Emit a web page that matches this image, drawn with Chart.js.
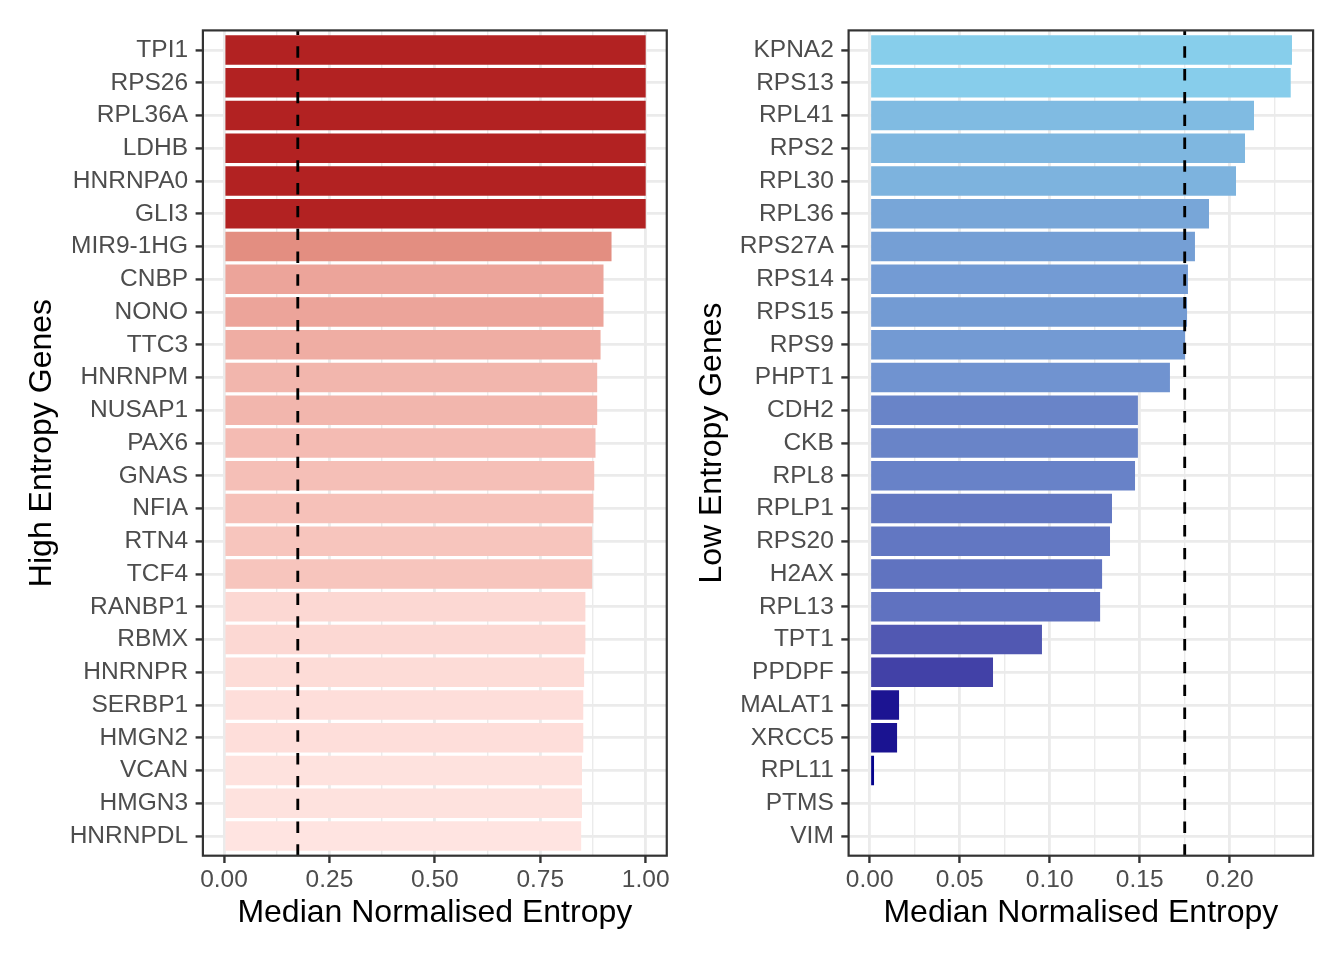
<!DOCTYPE html>
<html><head><meta charset="utf-8">
<script src="https://cdn.jsdelivr.net/npm/chart.js@4.4.1/dist/chart.umd.min.js"></script>
<style>
html,body{margin:0;padding:0;background:#fff;}
#wrap{position:relative;width:1344px;height:960px;overflow:hidden;background:#fff;}
.pane{position:absolute;top:0;width:672px;height:960px;}
canvas{display:block;}
</style></head><body>
<div id="wrap">
<div class="pane" style="left:0"><canvas id="c1" width="672" height="960"></canvas></div>
<div class="pane" style="left:672px"><canvas id="c2" width="672" height="960"></canvas></div>
</div>
<script>
// ---- data ----
const highGenes = ['TPI1','RPS26','RPL36A','LDHB','HNRNPA0','GLI3','MIR9-1HG','CNBP','NONO','TTC3','HNRNPM','NUSAP1','PAX6','GNAS','NFIA','RTN4','TCF4','RANBP1','RBMX','HNRNPR','SERBP1','HMGN2','VCAN','HMGN3','HNRNPDL'];
const highValues = [1,1,1,1,1,1,0.919,0.900,0.900,0.893,0.885,0.885,0.881,0.878,0.876,0.873,0.873,0.857,0.857,0.854,0.852,0.852,0.849,0.849,0.847];
const lowGenes = ['KPNA2','RPS13','RPL41','RPS2','RPL30','RPL36','RPS27A','RPS14','RPS15','RPS9','PHPT1','CDH2','CKB','RPL8','RPLP1','RPS20','H2AX','RPL13','TPT1','PPDPF','MALAT1','XRCC5','RPL11','PTMS','VIM'];
const lowValues = [0.2346,0.2339,0.2135,0.2085,0.2035,0.1885,0.1807,0.1768,0.1763,0.1752,0.1668,0.1490,0.1490,0.1474,0.1346,0.1335,0.1291,0.1280,0.0957,0.0685,0.0163,0.0152,0.0024,0,0];
const highTicks = [0,0.25,0.5,0.75,1.0];
const highTickLabels = ['0.00','0.25','0.50','0.75','1.00'];
const lowTicks = [0,0.05,0.10,0.15,0.20];
const lowTickLabels = ['0.00','0.05','0.10','0.15','0.20'];
const threshold = 0.175;
const xTitle = 'Median Normalised Entropy';
const highTitle = 'High Entropy Genes';
const lowTitle = 'Low Entropy Genes';

// ---- colour gradient in Lab space ----
function hexToRgb(h){h=h.replace('#','');return [0,2,4].map(i=>parseInt(h.substr(i,2),16));}
function toLab(hex){
  const [r,g,b]=hexToRgb(hex).map(c=>{c/=255;return c<=0.04045?c/12.92:Math.pow((c+0.055)/1.055,2.4);});
  let X=(0.4124564*r+0.3575761*g+0.1804375*b)/0.95047;
  let Y=(0.2126729*r+0.7151522*g+0.0721750*b);
  let Z=(0.0193339*r+0.1191920*g+0.9503041*b)/1.08883;
  const f=t=>t>0.008856?Math.cbrt(t):7.787*t+16/116;
  const fx=f(X),fy=f(Y),fz=f(Z);
  return [116*fy-16,500*(fx-fy),200*(fy-fz)];
}
function fromLab([L,a,b]){
  const fy=(L+16)/116, fx=fy+a/500, fz=fy-b/200;
  const fi=t=>{const t3=t*t*t;return t3>0.008856?t3:(t-16/116)/7.787;};
  const X=fi(fx)*0.95047, Y=fi(fy), Z=fi(fz)*1.08883;
  let r= 3.2404542*X-1.5371385*Y-0.4985314*Z;
  let g=-0.9692660*X+1.8760108*Y+0.0415560*Z;
  let bb=0.0556434*X-0.2040259*Y+1.0572252*Z;
  const gm=c=>{c=c<=0.0031308?12.92*c:1.055*Math.pow(c,1/2.4)-0.055;return Math.round(Math.max(0,Math.min(1,c))*255);};
  return 'rgb('+gm(r)+','+gm(g)+','+gm(bb)+')';
}
function gradient(lowHex, highHex, vals){
  const lo=Math.min(...vals), hi=Math.max(...vals);
  const A=toLab(lowHex), B=toLab(highHex);
  return vals.map(v=>{const t=(v-lo)/(hi-lo);return fromLab(A.map((x,i)=>x+(B[i]-x)*t));});
}

const FONT='Liberation Sans, Arial, sans-serif';
const TICK_SIZE=24.5, TITLE_SIZE=32;

function makeChart(id, genes, values, majors, majorLabels, yTitle, colors, lay){
  const hi=Math.max(0,...values), lo=Math.min(0,...values), span=hi-lo;
  const xmin=lo-0.05*span, xmax=hi+0.05*span;
  const step=majors[1]-majors[0];
  const tickVals=[];
  majors.forEach(m=>{ if(m>=xmin&&m<=xmax) tickVals.push(m); const mm=m+step/2; if(mm>xmin&&mm<xmax) tickVals.push(mm); });
  if(majors[0]-step/2>xmin) tickVals.push(majors[0]-step/2);
  tickVals.sort((a,b)=>a-b);
  const majorIdx=v=>majors.findIndex(m=>Math.abs(m-v)<1e-9);
  const isMajorCtx=c=>c&&c.tick&&majorIdx(c.tick.value)>=0;

  const overlay={id:'overlay'+id, afterDatasetsDraw(chart){
    const {ctx, chartArea:a, scales:{x}}=chart;
    const px=x.getPixelForValue(threshold);
    ctx.save();
    ctx.beginPath(); ctx.rect(a.left,a.top,a.right-a.left,a.bottom-a.top); ctx.clip();
    ctx.setLineDash([11.4,11.4]); ctx.lineWidth=2.85; ctx.strokeStyle='#000';
    ctx.beginPath(); ctx.moveTo(px,a.bottom); ctx.lineTo(px,a.top); ctx.stroke();
    ctx.restore();
    ctx.save();
    ctx.strokeStyle='#333333'; ctx.lineWidth=2.2;
    ctx.strokeRect(a.left,a.top,a.right-a.left,a.bottom-a.top);
    ctx.restore();
  }};

  return new Chart(document.getElementById(id),{
    type:'bar',
    data:{datasets:[{
      data:genes.map((g,i)=>({x:values[i],y:i})),
      backgroundColor:colors, borderWidth:0,
      categoryPercentage:1, barPercentage:0.9
    }]},
    options:{
      responsive:false, animation:false, indexAxis:'y', devicePixelRatio:1,
      layout:{padding:{top:lay.top,right:lay.right,bottom:0,left:0}},
      plugins:{legend:{display:false},tooltip:{enabled:false}},
      scales:{
        x:{type:'linear',position:'bottom',min:xmin,max:xmax,
          afterBuildTicks:s=>{s.ticks=tickVals.map(v=>({value:v}));},
          afterFit:s=>{s.height=lay.xAxisH;},
          ticks:{autoSkip:false,maxRotation:0,minRotation:0,padding:2.3,color:'#4D4D4D',
            font:{family:FONT,size:TICK_SIZE},
            callback:v=>{const k=majorIdx(v);return k>=0?majorLabels[k]:'';}},
          grid:{color:'#EBEBEB',lineWidth:c=>isMajorCtx(c)?2.85:1.42,drawTicks:true,tickLength:7.3,
            tickColor:c=>isMajorCtx(c)?'#333333':'rgba(0,0,0,0)',tickWidth:2.4},
          border:{display:false},
          title:{display:true,text:xTitle,color:'#000',font:{family:FONT,size:TITLE_SIZE},padding:{top:0,bottom:28.0}}
        },
        y:{type:'linear',position:'left',reverse:true,offset:false,min:-0.6,max:genes.length-1+0.6,
          afterBuildTicks:s=>{s.ticks=genes.map((g,i)=>({value:i}));},
          afterFit:s=>{s.width=lay.yAxisW;},
          ticks:{autoSkip:false,padding:7.5,color:'#4D4D4D',font:{family:FONT,size:TICK_SIZE},
            callback:v=>genes[v]},
          grid:{offset:false,color:'#EBEBEB',lineWidth:2.85,drawTicks:true,tickLength:7.3,tickColor:'#333333',tickWidth:2.4},
          border:{display:false},
          title:{display:true,text:yTitle,color:'#000',font:{family:FONT,size:TITLE_SIZE},padding:{top:lay.yTitlePad,bottom:0}}
        }
      }
    },
    plugins:[overlay]
  });
}

const highColors=gradient('#FFE4E1','#B22222',highValues);
const lowColors=gradient('#00008B','#87CEEB',lowValues);

makeChart('c1',highGenes,highValues,highTicks,highTickLabels,highTitle,highColors,
  {top:30.4,right:3.8,xAxisH:104.3,yAxisW:202.9,yTitlePad:23.0});
makeChart('c2',lowGenes,lowValues,lowTicks,lowTickLabels,lowTitle,lowColors,
  {top:30.4,right:30.9,xAxisH:104.3,yAxisW:176.6,yTitlePad:21.2});
</script>
</body></html>
